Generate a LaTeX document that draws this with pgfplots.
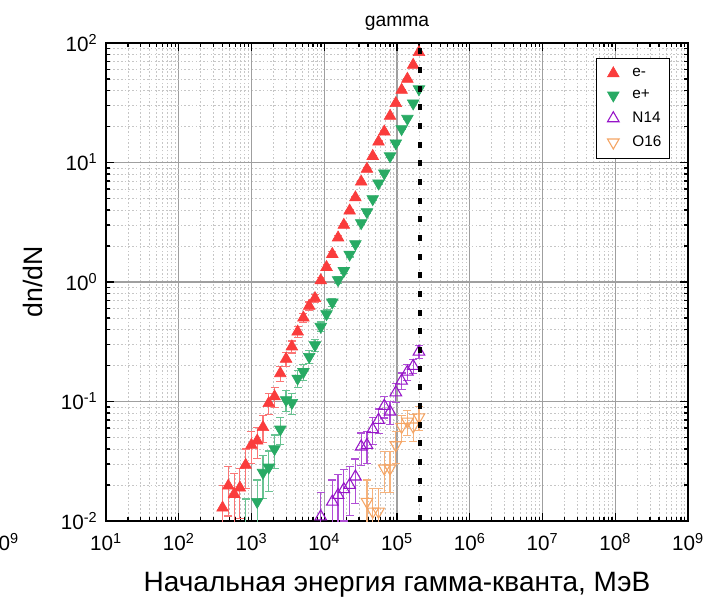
\documentclass[border=0pt]{standalone}
\usepackage{pgfplots}
\usepackage{pgfplotstable}
\pgfplotsset{compat=1.18}
\usepackage{fontspec}
\setmainfont{Liberation Sans}

\definecolor{cred}{RGB}{250,60,60}
\definecolor{cgreen}{RGB}{40,170,100}
\definecolor{cpurple}{RGB}{150,20,200}
\definecolor{corange}{RGB}{245,165,100}

\pgfplotstableread{
x y e
400 0.0129 0.0070
480.1 0.0197 0.0087
576.6 0.0168 0.0080
692.1 0.0190 0.0085
831.0 0.0294 0.0106
997.7 0.0432 0.0129
1197.8 0.0470 0.0134
1438.2 0.0608 0.0153
1726.7 0.0966 0.0193
2073.2 0.110 0.0206
2488.8 0.172 0.0257
2988.6 0.227 0.0295
3588 0.288 0.0333
4308 0.384 0.0384
5172 0.502 0.0439
6209 0.630 0.0492
7455 0.731 0.0530
8950 1.03 0.0629
10745 1.33 0.0715
12902 1.71 0.0811
15488 2.35 0.0950
18597 3.00 0.107
22328 3.95 0.123
26809 5.09 0.140
32187 6.90 0.163
38637 8.83 0.184
46387 11.3 0.208
55693 14.9 0.239
66869 18.1 0.264
80281 24.5 0.307
96383 31.3 0.347
115720 40.4 0.394
138933 50.0 0.438
166800 65.5 0.502
200300 83.6 0.567
}\tabem

\pgfplotstableread{
x y e
831.0 0.0093 0.0060
1197.8 0.0145 0.0075
1438.2 0.0254 0.0099
1726.7 0.0281 0.0104
2073.2 0.0401 0.0124
2488.8 0.0585 0.0150
2988.6 0.103 0.0199
3588 0.0977 0.0194
4308 0.156 0.0245
5172 0.177 0.0261
6209 0.237 0.0302
7455 0.297 0.0338
8950 0.423 0.0403
10745 0.540 0.0456
12902 0.676 0.0510
15488 1.04 0.0632
18597 1.24 0.0690
22328 1.70 0.0808
26809 2.08 0.0894
32187 3.12 0.1095
38637 3.85 0.1217
46387 4.95 0.138
55693 6.70 0.160
66869 8.12 0.177
80281 11.3 0.208
96383 14.5 0.236
115720 19.1 0.271
138933 23.3 0.299
166800 31.3 0.347
200300 41.1 0.397
}\tabep

\pgfplotstableread{
x y e
8950 0.0109 0.0065
12902 0.0145 0.0075
15488 0.0165 0.0080
18597 0.0184 0.0084
22328 0.0200 0.0088
26809 0.0235 0.0095
32187 0.0419 0.0127
38637 0.0432 0.0129
46387 0.0585 0.0150
55693 0.070 0.0164
66869 0.0917 0.0188
80281 0.0822 0.0178
96383 0.119 0.0214
115720 0.149 0.0239
138933 0.177 0.0261
166800 0.198 0.0276
200300 0.261 0.0317
}\tabn

\pgfplotstableread{
x y e
38637 0.0145 0.0075
46387 0.0120 0.0068
55693 0.0120 0.0068
66869 0.0276 0.0103
80281 0.0276 0.0103
96383 0.0432 0.0129
115720 0.0615 0.0154
138933 0.068 0.0162
166800 0.062 0.0154
200300 0.074 0.0169
}\tabo

\begin{document}
\begin{tikzpicture}
\begin{axis}[
  scale only axis, width=436.5pt, height=358.5pt,
  xmode=log, ymode=log,
  xmin=10, xmax=1e9, ymin=0.01, ymax=100,
  xtick={1e1,1e2,1e3,1e4,1e5,1e6,1e7,1e8,1e9},
  xticklabels={10\textsuperscript{1},10\textsuperscript{2},10\textsuperscript{3},10\textsuperscript{4},10\textsuperscript{5},10\textsuperscript{6},10\textsuperscript{7},10\textsuperscript{8},10\textsuperscript{9}},
  ytick={1e-2,1e-1,1e0,1e1,1e2},
  yticklabels={10\textsuperscript{-2},10\textsuperscript{-1},10\textsuperscript{0},10\textsuperscript{1},10\textsuperscript{2}},
  ticklabel style={font=\fontsize{15.5}{18}\selectfont},
  xticklabel style={yshift=-6pt},
  yticklabel style={xshift=-3pt},
  tick align=inside,
  major tick length=6pt, minor tick length=3pt,
  tick style={black, line width=0.9pt},
  axis line style={black, line width=1.1pt},
  grid=both,
  major grid style={solid, color=gray!75, line width=0.8pt},
  minor grid style={dash pattern=on 1.2pt off 1.6pt, color=gray!45, line width=0.6pt},
  title={gamma},
  title style={font=\fontsize{14.5}{17}\selectfont, yshift=0pt},
  xlabel={Начальная энергия гамма-кванта, МэВ},
  xlabel style={font=\fontsize{21}{25}\selectfont, at={(axis description cs:0.5,-0.1485)}, anchor=base},
  ylabel={dn/dN},
  ylabel style={font=\fontsize{20}{24}\selectfont, at={(axis description cs:-0.125,0.5)}, anchor=center},
  clip marker paths=true,
  legend style={at={(0.969,0.969)}, anchor=north east, draw=black, line width=0.8pt,
    font=\fontsize{11.5}{13}\selectfont, row sep=4.5pt, inner xsep=4pt, inner ysep=5.5pt},
  legend image code/.code={\path (0cm,0cm) (0.72cm,0cm); \draw[#1] plot coordinates {(0.3cm,0cm)};},
  legend cell align=left,
]
\addplot[only marks, mark=triangle*, mark size=5pt, color=cred, mark options={fill=cred, draw=cred, line width=0.5pt},
  error bars/.cd, y dir=both, y explicit,
  error bar style={color=cred!70, line width=0.9pt},
  error mark options={color=cred!70, mark size=3pt, line width=0.9pt, rotate=90}]
  table[x=x, y=y, y error=e]{\tabem};
\addlegendentry{e-}
\addplot[only marks, mark=triangle*, mark size=5pt, color=cgreen, mark options={rotate=180, fill=cgreen, draw=cgreen, line width=0.5pt},
  error bars/.cd, y dir=both, y explicit,
  error bar style={color=cgreen!70, line width=0.9pt},
  error mark options={color=cgreen!70, mark size=3pt, line width=0.9pt, rotate=90}]
  table[x=x, y=y, y error=e]{\tabep};
\addlegendentry{e+}
\addplot[only marks, mark=triangle, mark size=5pt, color=cpurple, mark options={draw=cpurple, line width=0.8pt},
  error bars/.cd, y dir=both, y explicit,
  error bar style={color=cpurple!75, line width=0.9pt},
  error mark options={color=cpurple!75, mark size=3pt, line width=0.9pt, rotate=90}]
  table[x=x, y=y, y error=e]{\tabn};
\addlegendentry{N14}
\addplot[only marks, mark=triangle, mark size=5pt, color=corange, mark options={rotate=180, draw=corange, line width=0.8pt},
  error bars/.cd, y dir=both, y explicit,
  error bar style={color=corange!85, line width=0.9pt},
  error mark options={color=corange!85, mark size=3pt, line width=0.9pt, rotate=90}]
  table[x=x, y=y, y error=e]{\tabo};
\addlegendentry{O16}
\addplot[black, line width=3pt, dash pattern=on 4.5pt off 9.5pt, forget plot] coordinates {(2.05e5,0.01) (2.05e5,100)};
\end{axis}
\node[anchor=north, font=\fontsize{15.5}{18}\selectfont] at ([xshift=-77.25pt, yshift=-6pt]current axis.south west) {10\textsuperscript{9}};
\pgfresetboundingbox
\path[use as bounding box] ([shift={(-79.5pt,-57pt)}]current axis.south west) rectangle ([shift={(16.5pt,32.25pt)}]current axis.north east);
\end{tikzpicture}
\end{document}
